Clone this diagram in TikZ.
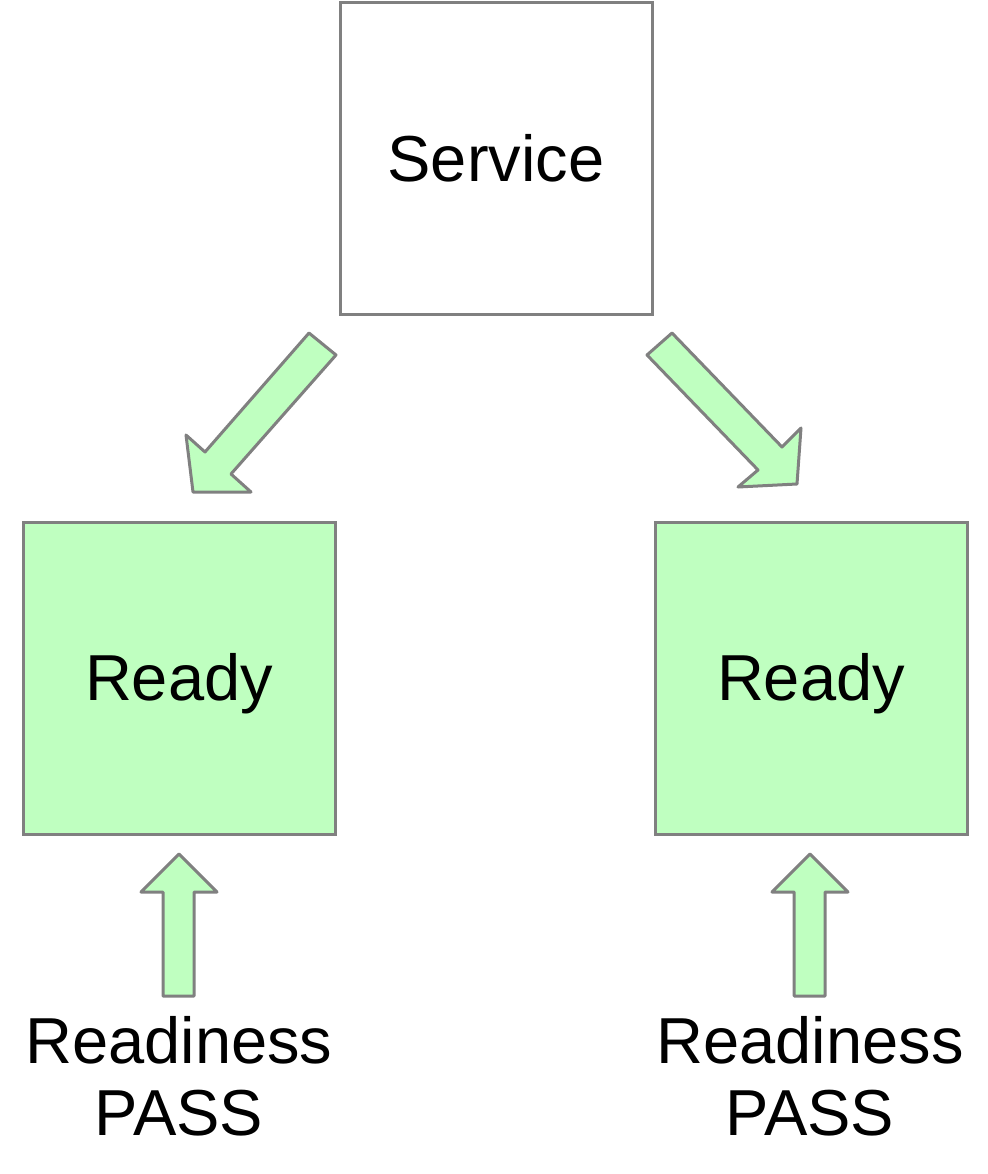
\documentclass[tikz,border=0pt]{standalone}
\usepackage{fontspec}
\setmainfont{Liberation Sans}
\definecolor{boxgray}{HTML}{808080}
\definecolor{readygreen}{HTML}{BFFFC0}
\begin{document}
\begin{tikzpicture}[x=1pt,y=-1pt,
  box/.style={draw=boxgray,line width=3pt,minimum width=312pt,minimum height=312pt,inner sep=0pt,font=\fontsize{65}{72}\selectfont},
  readybox/.style={box,fill=readygreen},
  blockarrow/.style={draw=boxgray,fill=readygreen,line width=3pt,line join=round},
  lbl/.style={align=center,font=\fontsize{65}{72}\selectfont,inner sep=0pt}]
\useasboundingbox (0,0) rectangle (987,1174);
\node[box] (service) at (496,158.5) {Service};
\node[readybox] (ready1) at (179,678.5) {};
\node[readybox] (ready2) at (811,678.5) {};
\node[lbl] (readytext1) at (179,684) {Ready};
\node[lbl] (readytext2) at (811,684) {Ready};
\node[lbl] (pass1) at (179,1076) {Readiness\\PASS};
\node[lbl] (pass2) at (810,1076) {Readiness\\PASS};
% diagonal block arrows
\draw[blockarrow] (309,333) -- (336,355) -- (231,474) -- (251,492) -- (193,492) -- (186,435) -- (205,452) -- cycle;
\draw[blockarrow] (672,333) -- (647,355) -- (758,470) -- (738,487) -- (797,484) -- (801,428) -- (782,447) -- cycle;
% upward block arrows
\draw[blockarrow] (179,854) -- (217,892) -- (194,892) -- (194,996) -- (163,996) -- (163,892) -- (141,892) -- cycle;
\draw[blockarrow] (810,854) -- (848,892) -- (825,892) -- (825,996) -- (794,996) -- (794,892) -- (772,892) -- cycle;
\end{tikzpicture}
\end{document}
